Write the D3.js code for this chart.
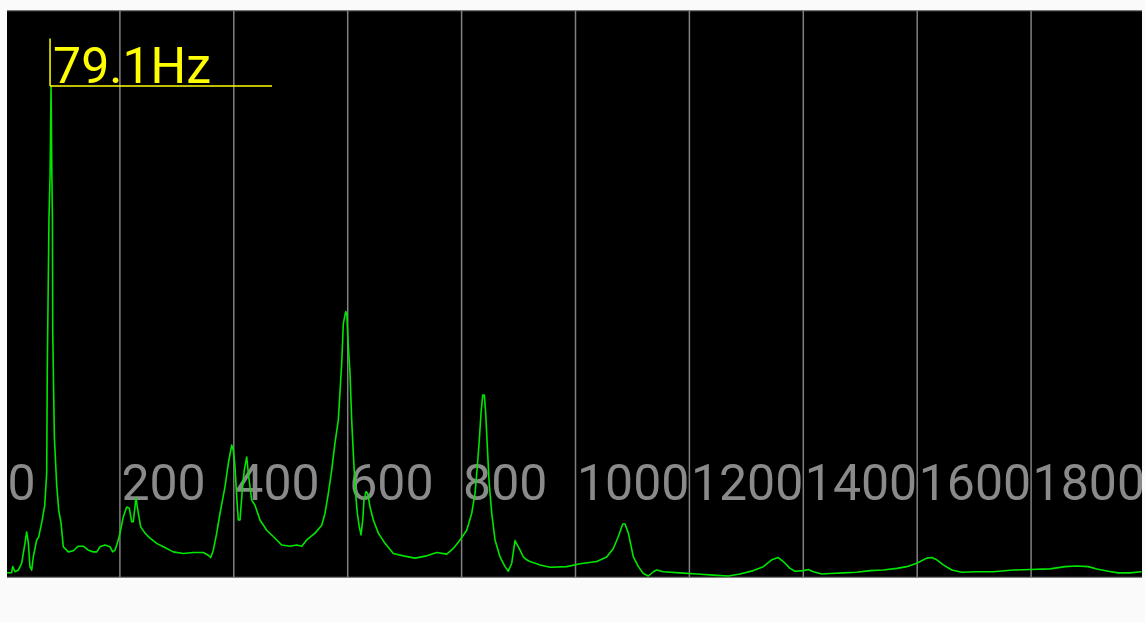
<!DOCTYPE html>
<html>
<head>
<meta charset="utf-8">
<script src="https://cdn.jsdelivr.net/npm/d3@7"></script>
<style>
html,body{margin:0;padding:0;background:#fafafa;}
svg{display:block;}
</style>
</head>
<body>
<svg id="chart" width="1145" height="622"></svg>
<script>
// ---- data ----
const tickValues = [0, 200, 400, 600, 800, 1000, 1200, 1400, 1600, 1800];
const tickLabels = ["0", "200", "400", "600", "800", "1000", "1200", "1400", "1600", "1800"];
const gridValues = [200, 400, 600, 800, 1000, 1200, 1400, 1600, 1800];
const peakFreq = 79.1;
const peakLabel = "79.1Hz";
const markerTop = 95;
const markerLevel = 86.6;

const freqs = [1.2,10,11.8,15.8,21.6,27.6,33.4,36.3,39.2,42.1,45.1,47.9,53.9,57.4,63.2,68,71.5,72.5,75.5,77.5,79.1,80.5,81.5,82,83,85,89,92.5,96.6,100.6,109.4,118.2,127,135.7,144.5,153.3,159.3,165.1,173.8,182.6,187.4,191.4,195.4,200.2,206,212,216.5,220.7,223.5,228.3,232.3,236.5,244.1,252.9,264.6,276.2,293.8,311.3,328.9,346.5,355.2,359.5,364,370,375.8,384.6,390.4,396.3,399.1,402.1,405.1,407.9,410.9,414.9,418.4,422.7,425.5,431.4,437.2,446,457.8,472.4,484.1,498.7,510.5,519.3,528.1,542.6,554.4,560.2,566,571.9,577.7,583.5,589.5,592.3,596.5,598.3,601.1,604.1,607,609.9,612.9,616.9,620.4,623.4,626.4,628.6,632.2,635.1,639.2,645,653.8,665.5,680.1,697.7,718.2,738.7,756.3,773.9,785.5,797.2,809,817.8,823.6,827.6,831.1,834.1,837.1,839.9,842.3,845.2,848.1,852.9,858.7,867.5,876.2,882.1,888,893.8,899.6,902.6,908.4,914.3,920.1,931.9,937.7,955.3,984.6,1007.9,1037.3,1054.8,1066.4,1075.2,1082.9,1087,1092.8,1101.6,1110.4,1119.1,1127.9,1136.7,1142.6,1154.2,1183.5,1212.9,1242,1268.4,1288.9,1312.3,1329.8,1344.6,1356.2,1364.9,1376.7,1385.5,1400,1408.8,1417.6,1432.4,1447,1470.3,1493.8,1517.2,1540.5,1564.1,1581.6,1599.2,1616.8,1625.6,1634.3,1645.9,1660.7,1678.2,1704.5,1733.7,1768.8,1798.1,1833.3,1859.6,1880.1,1900.5,1915.3,1935.6,1953.2,1973.7,1994.2];

const amps = [0.93,0.93,2.0,1.1,1.4,2.6,6.2,8.1,6.2,2.0,1.4,3.7,6.7,7.2,10.0,12.8,18.5,37.1,63.4,71.3,86.6,71.3,63.4,43.6,37.1,24.6,16.4,12,9.7,5.5,4.6,4.8,5.6,5.6,4.9,4.6,4.6,5.5,5.8,5.5,4.6,4.9,6.1,7.9,10.8,12.5,12.3,9.9,9.9,14.1,11.4,9.0,7.9,7.0,6.1,5.5,4.6,4.3,4.5,4.5,4.0,3.6,4.9,7.9,11.4,16.1,20.2,23.4,22.5,19.6,14.3,10.2,10.2,15.5,19.0,21.3,18.4,13.7,12.8,10.2,8.4,7.0,5.8,5.6,5.8,5.6,6.7,7.9,9.3,11.4,14.9,19.0,23.8,27.8,37.8,44.8,46.9,46.6,40.7,36.0,27.8,21.9,16.1,11.4,9.0,7.6,10.2,13.7,15.2,14.9,12.5,10.2,7.9,6.1,4.3,3.9,3.5,3.9,4.5,4.2,5.2,6.7,8.4,11.4,14.9,19.6,24.3,29.0,32.2,32.2,29.0,23.1,17.2,11.4,6.7,3.7,2.0,1.2,2.6,6.6,5.5,4.9,3.7,3.2,2.9,2.5,2.3,1.9,2.0,2.5,2.9,3.7,5.2,7.3,9.5,9.5,7.9,3.7,2.0,0.8,0.35,1.1,1.4,1.1,0.9,0.7,0.5,0.35,0.7,1.3,2.0,3.2,3.6,2.9,1.7,1.2,1.3,1.5,1.1,0.7,0.8,0.9,1.0,1.3,1.4,1.7,2.0,2.6,3.5,3.6,3.2,2.3,1.4,1.0,1.1,1.1,1.4,1.5,1.6,2.0,2.1,2.0,1.6,1.2,0.9,0.9,1.1];

// ---- layout ----
const svg = d3.select("#chart");
const plot = {left: 7, right: 1142, top: 10, bottom: 578};
const x = d3.scaleLinear().domain([0, 2000]).range([6, 1145]);
const y = d3.scaleLinear().domain([0, 100]).range([plot.bottom, plot.top]);

svg.append("defs").append("clipPath").attr("id", "clip")
  .append("rect").attr("x", plot.left).attr("y", plot.top)
  .attr("width", plot.right - plot.left).attr("height", plot.bottom - plot.top);

svg.append("rect").attr("x", plot.left).attr("y", plot.top)
  .attr("width", plot.right - plot.left).attr("height", plot.bottom - plot.top)
  .attr("fill", "#000");

const g = svg.append("g").attr("clip-path", "url(#clip)");

// border lines top/bottom
g.selectAll("line.hb").data([plot.top + 0.5, plot.bottom - 0.5]).join("line")
  .attr("class", "hb")
  .attr("x1", plot.left).attr("x2", plot.right)
  .attr("y1", d => d).attr("y2", d => d)
  .attr("stroke", "#7a7a7a").attr("stroke-width", 1.5);

// grid
g.selectAll("line.grid").data(gridValues).join("line")
  .attr("class", "grid")
  .attr("x1", d => x(d)).attr("x2", d => x(d))
  .attr("y1", plot.top).attr("y2", plot.bottom)
  .attr("stroke", "#808080").attr("stroke-width", 1.5);

// tick labels
g.selectAll("text.tick").data(tickValues).join("text")
  .attr("class", "tick")
  .attr("x", d => x(d) + 1.5)
  .attr("y", 500)
  .attr("font-family", "Roboto, sans-serif")
  .attr("font-size", 50)
  .attr("fill", "#8a8a8a")
  .text((d, i) => tickLabels[i]);

// spectrum
const pts = freqs.map((f, i) => [f, amps[i]]);
g.append("path").datum(pts)
  .attr("fill", "none")
  .attr("stroke", "#00e600")
  .attr("stroke-width", 1.6)
  .attr("stroke-linejoin", "round")
  .attr("d", d3.line().x(d => x(d[0])).y(d => y(d[1])));

// peak marker
const px = x(peakFreq) - 1;
g.append("line")
  .attr("x1", px).attr("x2", px)
  .attr("y1", y(markerTop)).attr("y2", y(markerLevel))
  .attr("stroke", "#ffff00").attr("stroke-width", 1.5);
g.append("line")
  .attr("x1", px).attr("x2", px + 222)
  .attr("y1", y(markerLevel)).attr("y2", y(markerLevel))
  .attr("stroke", "#ffff00").attr("stroke-width", 1.5);
g.append("text")
  .attr("x", px + 3).attr("y", y(markerLevel) - 3.5)
  .attr("font-family", "Roboto, sans-serif")
  .attr("font-size", 50)
  .attr("fill", "#ffff00")
  .text(peakLabel);
</script>
</body>
</html>
